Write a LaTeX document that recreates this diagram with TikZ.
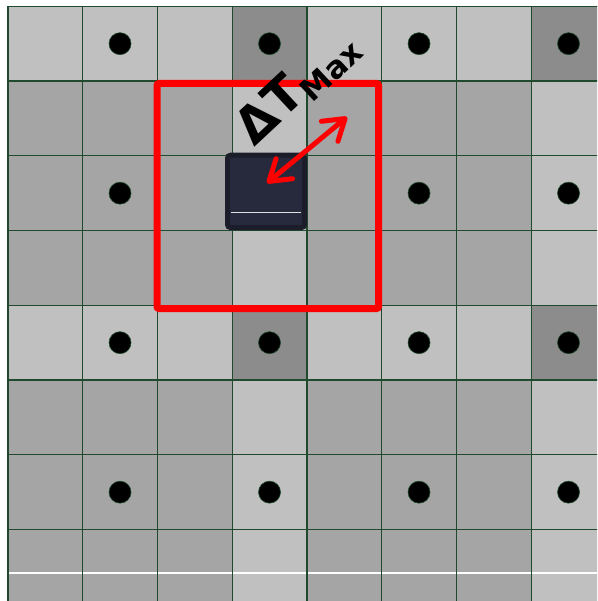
\documentclass[tikz,border=0pt]{standalone}
\usepackage{fontspec}
\setmainfont{DejaVu Sans}
\usetikzlibrary{arrows.meta}
\definecolor{cL}{HTML}{C0C0C0}
\definecolor{cM}{HTML}{A5A5A5}
\definecolor{cD}{HTML}{8C8C8C}
\definecolor{gridc}{HTML}{1F4A2E}
\definecolor{chipfill}{HTML}{272A3D}
\definecolor{chipedge}{HTML}{1C1D2A}
\begin{document}
\begin{tikzpicture}[x=1pt,y=-1pt,
  gridline/.style={draw=gridc, line width=1.2pt},
  dot/.style={circle, fill=black, draw=gridc, line width=0.6pt, minimum size=22pt, inner sep=0pt},
  chip/.style={rectangle, rounded corners=3pt, fill=chipfill, draw=chipedge, line width=5pt, minimum width=77pt, minimum height=72.3pt, inner sep=0pt},
  chipline/.style={draw=white!85!chipfill, line width=1pt},
  window/.style={rectangle, draw=red, line width=7pt, rounded corners=2pt, minimum width=221.5pt, minimum height=225pt, inner sep=0pt},
  dtarrow/.style={draw=red, line width=5pt, line cap=round, <->, >={Straight Barb[length=20pt,width=26pt,round]}},
  dtlabel/.style={rotate=43, anchor=base west, inner sep=0pt, font=\fontsize{50}{50}\selectfont\bfseries}]
\useasboundingbox (0,0) rectangle (597,601);
\clip (0,0) rectangle (597,601);
\def\xo{7.9}\def\yo{6.3}\def\w{74.75}
\foreach \r in {0,...,7}{
  \foreach \c in {0,...,7}{
    \pgfmathtruncatemacro\mc{mod(\c,4)}
    \pgfmathtruncatemacro\mr{mod(\r,4)}
    \ifnum\mr=0
      \ifnum\mc=3 \def\cellcol{cD}\else\def\cellcol{cL}\fi
    \else
      \ifnum\mc=3 \def\cellcol{cL}\else\def\cellcol{cM}\fi
    \fi
    \fill[\cellcol] ({\xo+\c*\w},{\yo+\r*\w}) rectangle ++(\w,\w);
  }
}
\draw[white, line width=1.3pt] (\xo,573) -- (610,573);
\foreach \i in {0,...,8}{
  \draw[gridline] ({\xo+\i*\w},\yo) -- ({\xo+\i*\w},610);
  \draw[gridline] (\xo,{\yo+\i*\w}) -- (610,{\yo+\i*\w});
}
\foreach \c/\r in {1/0,3/0,5/0,7/0,1/2,5/2,7/2,1/4,3/4,5/4,7/4,1/6,3/6,5/6,7/6}{
  \node[dot] (d\c\r) at ({\xo+(\c+0.5)*\w},{\yo+(\r+0.5)*\w}) {};
}
\node[chip] (chip) at (266,191.4) {};
\draw[chipline] (230.5,212.7) -- (301,212.7);
\node[window] (win) at (267.75,196) {};
\coordinate (tipA) at (267,183);
\coordinate (tipB) at (347,117);
\draw[dtarrow] (tipA) -- (tipB);
\node[dtlabel] (dt) at (254,147.5) {ΔT\raisebox{-8pt}{\fontsize{31}{31}\selectfont Max}};
\end{tikzpicture}
\end{document}
